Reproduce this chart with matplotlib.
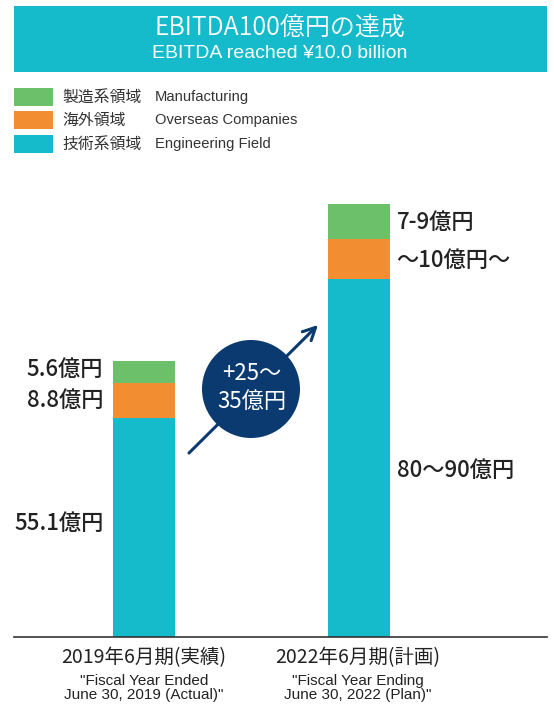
import matplotlib.pyplot as plt
from matplotlib.patches import Rectangle, Circle

plt.rcParams['font.family'] = ['Noto Sans CJK JP', 'DejaVu Sans']

# data (億円)
periods = ["2019年6月期(実績)", "2022年6月期(計画)"]
periods_en = ['"Fiscal Year Ended\nJune 30, 2019 (Actual)"',
              '"Fiscal Year Ending\nJune 30, 2022 (Plan)"']
engineering = [55.1, 90]
overseas = [8.8, 10]
manufacturing = [5.6, 9]
eng_labels = ["55.1億円", "80〜90億円"]
ovs_labels = ["8.8億円", "〜10億円〜"]
mfg_labels = ["5.6億円", "7-9億円"]
seg_names = ["製造系領域", "海外領域", "技術系領域"]
seg_names_en = ["Manufacturing", "Overseas Companies", "Engineering Field"]

c_green = "#6cc069"
c_orange = "#f38d32"
c_cyan = "#15bacb"
c_navy = "#0b3a70"
c_text = "#222222"
latin = ["Liberation Sans", "DejaVu Sans"]

W, H = 554, 704
fig = plt.figure(figsize=(W / 100, H / 100), dpi=100)

# overlay in pixel coordinates (y down) for decorations
ov = fig.add_axes([0, 0, 1, 1])
ov.set_xlim(0, W)
ov.set_ylim(H, 0)
ov.axis("off")

# main bar axes
base_y = 637
ymax = 120
px_per_unit = 3.975
ax = fig.add_axes([14 / W, (H - base_y) / H, (547 - 14) / W, ymax * px_per_unit / H])
ax.set_xlim(-0.6047, 1.874)
ax.set_ylim(0, ymax)
x = [0, 1]
bw = 0.2884
ax.bar(x, engineering, bw, color=c_cyan)
ax.bar(x, overseas, bw, bottom=engineering, color=c_orange)
bot2 = [e + o for e, o in zip(engineering, overseas)]
ax.bar(x, manufacturing, bw, bottom=bot2, color=c_green)
for s in ["top", "right", "left"]:
    ax.spines[s].set_visible(False)
ax.spines["bottom"].set_color("#333333")
ax.spines["bottom"].set_linewidth(1.2)
ax.set_xticks([])
ax.set_yticks([])
ax.patch.set_alpha(0)

lab_kw = dict(fontsize=16, color=c_text, va="center", fontweight="medium")
# left bar labels (left side)
lx = x[0] - bw / 2 - 0.045
ax.text(lx, engineering[0] / 2 + 0.9, eng_labels[0], ha="right", **lab_kw)
ax.text(lx, engineering[0] + overseas[0] / 2, ovs_labels[0], ha="right", **lab_kw)
ax.text(lx, bot2[0] + manufacturing[0] / 2 + 0.5, mfg_labels[0], ha="right", **lab_kw)
# right bar labels (right side)
rx = x[1] + bw / 2 + 0.03
ax.text(rx, engineering[1] / 2 - 3.2, eng_labels[1], ha="left", **lab_kw)
ax.text(rx, engineering[1] + overseas[1] / 2 - 0.3, ovs_labels[1], ha="left", **lab_kw)
ax.text(rx, bot2[1] + manufacturing[1] / 2 - 0.3, mfg_labels[1], ha="left", **lab_kw)

# header
ov.add_patch(Rectangle((14, 6), 533, 66, color=c_cyan, lw=0))
ov.text(280, 28, "EBITDA100億円の達成", ha="center", va="center", color="white",
        fontsize=18, fontweight=350)
ov.text(280, 53, "EBITDA reached ¥10.0 billion", ha="center", va="center", color="white",
        fontsize=14, family=latin)

# legend
leg_colors = [c_green, c_orange, c_cyan]
leg_y = [97, 120, 144]
for col, yy, jp, en in zip(leg_colors, leg_y, seg_names, seg_names_en):
    ov.add_patch(Rectangle((14, yy - 9), 39, 18, color=col, lw=0))
    ov.text(62, yy, jp, ha="left", va="center", color="#333333", fontsize=11.4)
    ov.text(155, yy, en, ha="left", va="center", color="#333333", fontsize=10.6, family=latin)

# growth arrow and circle
ov.annotate("", xy=(320, 323), xytext=(187, 455),
            arrowprops=dict(arrowstyle="->,head_length=0.9,head_width=0.45", color=c_navy, lw=2.2))
ov.add_patch(Circle((251, 389), 49, color=c_navy, lw=0, zorder=3))
ov.text(252, 373, "+25〜", ha="center", va="center", color="white", fontsize=16, zorder=4)
ov.text(252, 401, "35億円", ha="center", va="center", color="white", fontsize=16, zorder=4)

# x labels
for xc, jp, en in zip([144, 358], periods, periods_en):
    ov.text(xc, 658, jp, ha="center", va="center", color=c_text, fontsize=14)
    ov.text(xc, 688, en, ha="center", va="center", color=c_text, fontsize=11,
            family=latin, linespacing=1.05)

fig.savefig("out.png", dpi=100)
